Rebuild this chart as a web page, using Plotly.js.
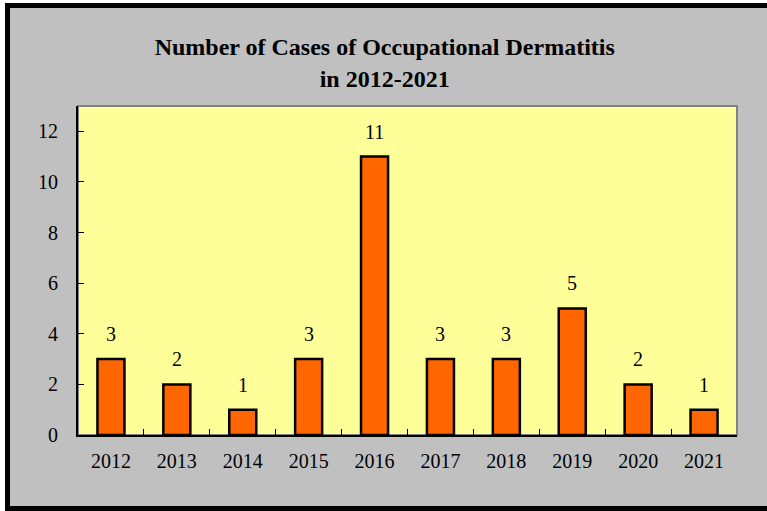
<!DOCTYPE html>
<html>
<head>
<meta charset="utf-8">
<script src="https://cdn.plot.ly/plotly-3.0.1.min.js"></script>
<style>
  html, body { margin: 0; padding: 0; background: #ffffff; }
  #frame {
    position: absolute; left: 5px; top: 3px;
    width: 757px; height: 498px;
    border-left: 5px solid #000; border-top: 5px solid #000; border-bottom: 5px solid #000;
    background: #c0c0c0;
  }
</style>
</head>
<body>
<div id="frame"><div id="chart"></div></div>
<script>
// number of occupational dermatitis cases per year
const years = ['2012', '2013', '2014', '2015', '2016', '2017', '2018', '2019', '2020', '2021'];
const cases = [3, 2, 1, 3, 11, 3, 3, 5, 2, 1];

const serif = 'Liberation Serif, Times New Roman, serif';

const trace = {
  type: 'bar',
  x: years,
  y: cases,
  marker: { color: '#ff6600', line: { color: '#000000', width: 2.5 } },
  hoverinfo: 'x+y'
};

// value labels sit a bit above each bar (x by category index, years look numeric)
const labels = years.map((yr, i) => ({
  x: i, y: cases[i], text: String(cases[i]),
  showarrow: false, yanchor: 'bottom', yshift: 12,
  font: { family: serif, size: 20, color: '#000' }
}));

Plotly.newPlot('chart', [trace], {
  width: 757,
  height: 498,
  paper_bgcolor: '#c0c0c0',
  plot_bgcolor: '#ffff99',
  margin: { l: 68, r: 30, t: 98, b: 71 },
  bargap: 0.59,
  showlegend: false,
  title: {
    text: '<b>Number of Cases of Occupational Dermatitis<br>in 2012-2021</b>',
    font: { family: serif, size: 24, color: '#000' },
    x: 0.495, xanchor: 'center', y: 0.905, yanchor: 'top'
  },
  xaxis: {
    type: 'category',
    range: [-0.5, 9.5],
    tickson: 'boundaries',
    ticks: 'inside', ticklen: 6, tickcolor: '#000',
    showline: true, linecolor: '#000', linewidth: 2,
    showgrid: false,
    tickangle: 0,
    tickfont: { family: serif, size: 20, color: '#000' },
    ticklabelstandoff: 7
  },
  yaxis: {
    range: [0, 13],
    tickvals: [0, 2, 4, 6, 8, 10, 12],
    ticks: 'inside', ticklen: 6, tickcolor: '#000',
    showline: true, linecolor: '#000', linewidth: 2,
    showgrid: false, zeroline: false,
    tickfont: { family: serif, size: 20, color: '#000' },
    ticklabelstandoff: 14
  },
  shapes: [{
    type: 'rect', xref: 'paper', yref: 'paper', x0: 0, x1: 1, y0: 0, y1: 1,
    line: { color: '#808080', width: 2 }, layer: 'below'
  }],
  annotations: labels
}, { displayModeBar: false, staticPlot: true });
</script>
</body>
</html>
